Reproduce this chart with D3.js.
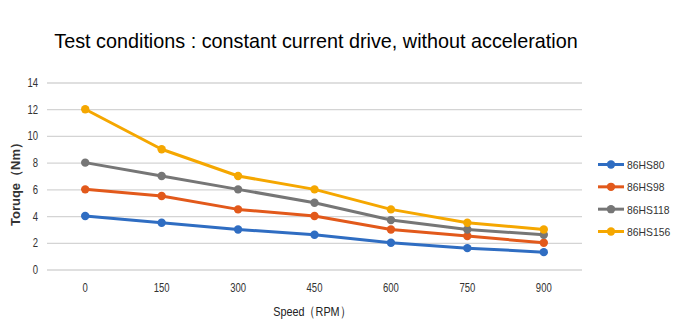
<!DOCTYPE html>
<html><head><meta charset="utf-8">
<script src="https://cdn.jsdelivr.net/npm/d3@7/dist/d3.min.js"></script>
<style>body{margin:0;background:#fff}svg{display:block}</style>
</head><body>
<svg id="c" width="677" height="334"></svg>
<script>
const categories = ["0","150","300","450","600","750","900"];
const seriesNames = ["86HS80","86HS98","86HS118","86HS156"];
const hs80 = [4,3.5,3,2.6,2,1.6,1.3];
const hs98 = [6,5.5,4.5,4,3,2.5,2];
const hs118 = [8,7,6,5,3.7,3,2.6];
const hs156 = [12,9,7,6,4.5,3.5,3];
const yTicks = [0,2,4,6,8,10,12,14];
const colors = ["#2F6DC2","#E2591B","#767676","#F5A700"];
const series = [hs80,hs98,hs118,hs156];

const svg = d3.select("#c");
const sans = "'Liberation Sans',Arial,sans-serif";
function condense(sel, f){
  sel.each(function(){
    const L = this.getComputedTextLength();
    this.setAttribute("textLength", L*f);
    this.setAttribute("lengthAdjust","spacingAndGlyphs");
  });
}
const x = d3.scaleBand().domain(categories).range([47,582]);
const y = d3.scaleLinear().domain([0,14]).range([269.5,82.5]);

svg.append("text").attr("x",316).attr("y",48).attr("text-anchor","middle")
  .attr("font-family",sans).attr("font-size",19.8).attr("fill","#000")
  .text("Test conditions : constant current drive, without acceleration");

const yAxis = d3.axisLeft(y).tickValues(yTicks).tickSize(-(582-47)).tickPadding(9);
const gy = svg.append("g").attr("transform","translate(47,0)").call(yAxis);
gy.select(".domain").remove();
gy.selectAll(".tick line").attr("stroke","#d4d4d4").attr("stroke-width",1.3);
gy.selectAll(".tick text").attr("font-family",sans).attr("font-size",12.5).attr("fill","#333");
condense(gy.selectAll(".tick text"),0.76);

const xAxis = d3.axisBottom(x).tickSize(0).tickPadding(14);
const gx = svg.append("g").attr("transform","translate(0,269.5)").call(xAxis);
gx.select(".domain").remove();
gx.selectAll(".tick text").attr("font-family",sans).attr("font-size",12.5).attr("fill","#333");
condense(gx.selectAll(".tick text"),0.76);

const xl = svg.append("text").attr("x",312).attr("y",316).attr("text-anchor","middle")
  .attr("font-family",sans).attr("font-size",13.5).attr("fill","#222").text("Speed（RPM）");
condense(xl,0.8);
svg.append("text").attr("transform","translate(20,181) rotate(-90)").attr("text-anchor","middle")
  .attr("font-family",sans).attr("font-weight","bold").attr("font-size",13).attr("fill","#333")
  .text("Toruqe（Nm）");

const line = d3.line().x((d,i)=>x(categories[i])+x.bandwidth()/2).y(d=>y(d));
series.forEach((s,k)=>{
  const g = svg.append("g");
  g.append("path").attr("d",line(s)).attr("fill","none").attr("stroke",colors[k]).attr("stroke-width",3).attr("stroke-linejoin","round");
  g.selectAll("circle").data(s).join("circle")
    .attr("cx",(d,i)=>x(categories[i])+x.bandwidth()/2).attr("cy",d=>y(d)).attr("r",4.2).attr("fill",colors[k]);
});

const legY = d3.scalePoint().domain(seriesNames).range([164.5,231.5]);
seriesNames.forEach((n,k)=>{
  const g = svg.append("g").attr("transform",`translate(0,${legY(n)})`);
  g.append("line").attr("x1",598).attr("x2",624).attr("stroke",colors[k]).attr("stroke-width",3);
  g.append("circle").attr("cx",611).attr("r",4.2).attr("fill",colors[k]);
  const t = g.append("text").attr("x",627).attr("y",4.5).attr("font-family",sans).attr("font-size",11.5).attr("fill","#333").text(n);
  condense(t,0.9);
});
</script>
</body></html>
